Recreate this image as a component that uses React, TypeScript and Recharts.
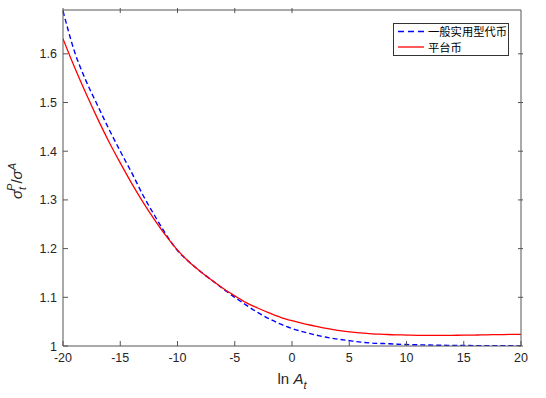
import React from 'react';
import { LineChart, Line, XAxis, YAxis } from 'recharts';

const lnA = [-20,-19,-18,-17,-16,-15,-14,-13,-12,-11,-10,-9,-8,-7,-6,-5,-4,-3,-2,-1,0,1,2,3,4,5,6,7,8,9,10,11,12,13,14,15,16,17,18,19,20];
const generalToken = [1.688,1.605,1.545,1.495,1.446,1.400,1.356,1.309,1.268,1.229,1.196,1.173,1.153,1.135,1.117,1.100,1.084,1.069,1.056,1.045,1.036,1.029,1.023,1.018,1.014,1.011,1.008,1.006,1.005,1.004,1.003,1.0025,1.002,1.0015,1.0012,1.001,1.0008,1.0006,1.0005,1.0004,1.0003];
const platformToken = [1.631,1.573,1.519,1.468,1.420,1.376,1.334,1.295,1.259,1.226,1.197,1.173,1.153,1.135,1.118,1.103,1.089,1.078,1.068,1.059,1.052,1.046,1.041,1.036,1.032,1.029,1.027,1.025,1.024,1.023,1.0225,1.022,1.022,1.022,1.022,1.0222,1.0225,1.023,1.0233,1.0237,1.024];
const xTicks = [-20,-15,-10,-5,0,5,10,15,20];
const yTicks = [1,1.1,1.2,1.3,1.4,1.5,1.6];
const seriesNames = ['一般实用型代币', '平台币'];

const data = lnA.map((x, i) => ({ x, general: generalToken[i], platform: platformToken[i] }));

const AXIS = '#555555';
const TXT = '#262626';
const FONT = '"Liberation Sans", Arial, sans-serif';

const PLOT_BOTTOM = 346;
const PLOT_LEFT = 63;

const BottomTick = (props: any) => {
  const { x, y, payload } = props;
  return (
    <g>
      <line x1={x} x2={x} y1={y} y2={y - 5} stroke={AXIS} strokeWidth={1} />
      <text x={x} y={y + 16} textAnchor="middle" fontSize={12.5} fill={TXT} fontFamily={FONT}>{payload.value}</text>
    </g>
  );
};
const TopTick = (props: any) => {
  const { x, y } = props;
  return <line x1={x} x2={x} y1={y} y2={y + 5} stroke={AXIS} strokeWidth={1} />;
};
const LeftTick = (props: any) => {
  const { x, y, payload } = props;
  const v = Number(payload.value);
  const label = v === 1 ? '1' : v.toFixed(1);
  return (
    <g>
      <line x1={x} x2={x + 5} y1={y} y2={y} stroke={AXIS} strokeWidth={1} />
      <text x={x - 6} y={y + 4.5} textAnchor="end" fontSize={12.5} fill={TXT} fontFamily={FONT}>{label}</text>
    </g>
  );
};
const RightTick = (props: any) => {
  const { x, y } = props;
  return <line x1={x} x2={x - 5} y1={y} y2={y} stroke={AXIS} strokeWidth={1} />;
};

const LegendBox = () => (
  <div style={{ position: 'absolute', left: 393, top: 23, width: 116, height: 33, border: '1px solid #333', background: '#fff', boxSizing: 'border-box', fontFamily: '"Noto Sans CJK SC", sans-serif', fontSize: 11.3, color: '#000' }}>
    <svg width={30} height={32} style={{ position: 'absolute', left: 3, top: 0 }}>
      <line x1={1} x2={27} y1={7.5} y2={7.5} stroke="#0000ff" strokeWidth={1.3} strokeDasharray="6 4" />
      <line x1={1} x2={27} y1={23} y2={23} stroke="#ff0000" strokeWidth={1.3} />
    </svg>
    <div style={{ position: 'absolute', left: 34, top: 0, lineHeight: '15px', whiteSpace: 'nowrap' }}>{seriesNames[0]}</div>
    <div style={{ position: 'absolute', left: 34, top: 15.5, lineHeight: '15px', whiteSpace: 'nowrap' }}>{seriesNames[1]}</div>
  </div>
);

export default function App() {
  return (
    <div style={{ position: 'absolute', left: 0, top: 0, width: 546, height: 398, background: '#fff' }}>
      <LineChart
        width={546}
        height={398}
        data={data}
        margin={{ top: 9, right: 24, bottom: 0, left: 0 }}
      >
        <XAxis
          dataKey="x"
          type="number"
          domain={[-20, 20]}
          ticks={xTicks}
          height={398 - PLOT_BOTTOM}
          tickSize={0}
          tickMargin={0}
          tick={<BottomTick />}
          axisLine={{ stroke: AXIS }}
          tickLine={false}
          allowDataOverflow
          label={{
            content: () => (
              <text x={292} y={384} textAnchor="middle" fontSize={15} fill={TXT} fontFamily={FONT}>
                <tspan>ln </tspan>
                <tspan fontStyle="italic">A</tspan>
                <tspan fontStyle="italic" fontSize={11} dy={5}>t</tspan>
              </text>
            ),
          }}
        />
        <XAxis
          xAxisId="top"
          orientation="top"
          type="number"
          domain={[-20, 20]}
          ticks={xTicks}
          height={1}
          tickSize={0}
          tick={<TopTick />}
          axisLine={{ stroke: AXIS }}
          tickLine={false}
          allowDataOverflow
        />
        <YAxis
          type="number"
          domain={[1, 1.69]}
          ticks={yTicks}
          width={PLOT_LEFT}
          tickSize={0}
          tickMargin={0}
          tick={<LeftTick />}
          axisLine={{ stroke: AXIS }}
          tickLine={false}
          allowDataOverflow
          label={{
            content: () => (
              <text x={22} y={181} transform="rotate(-90 22 181)" textAnchor="middle" fontSize={15} fill={TXT} fontFamily={FONT}>
                <tspan fontStyle="italic">σ</tspan>
                <tspan fontStyle="italic" fontSize={11} dy={4}>t</tspan>
                <tspan fontStyle="italic" fontSize={11} dx={-4} dy={-11}>P</tspan>
                <tspan dy={7}>/</tspan>
                <tspan fontStyle="italic">σ</tspan>
                <tspan fontStyle="italic" fontSize={11} dy={-6}>A</tspan>
              </text>
            ),
          }}
        />
        <YAxis
          yAxisId="right"
          orientation="right"
          type="number"
          domain={[1, 1.69]}
          ticks={yTicks}
          width={1}
          tickSize={0}
          tick={<RightTick />}
          axisLine={{ stroke: AXIS }}
          tickLine={false}
          allowDataOverflow
        />
        <Line
          dataKey="general"
          name={seriesNames[0]}
          stroke="#0000ff"
          strokeWidth={1.4}
          strokeDasharray="5 3"
          dot={false}
          type="monotone"
          isAnimationActive={false}
        />
        <Line
          dataKey="platform"
          name={seriesNames[1]}
          stroke="#ff0000"
          strokeWidth={1.3}
          dot={false}
          type="monotone"
          isAnimationActive={false}
        />
      </LineChart>
      <LegendBox />
    </div>
  );
}
